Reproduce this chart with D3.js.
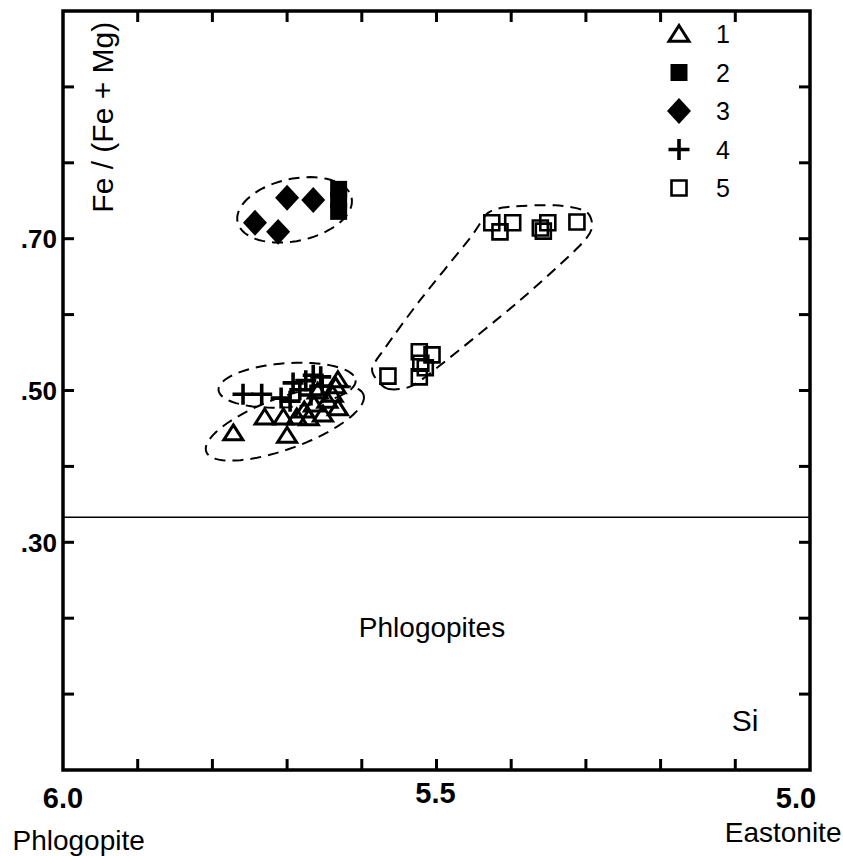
<!DOCTYPE html>
<html>
<head>
<meta charset="utf-8">
<script src="https://cdn.jsdelivr.net/npm/d3@7"></script>
<style>
  body { margin: 0; background: #fff; }
  svg { display: block; }
  text { font-family: "Liberation Sans", Arial, Helvetica, sans-serif; fill: #000; }
</style>
</head>
<body>
<div id="chart"></div>
<script>
// Si (x, reversed) vs Fe/(Fe+Mg) (y) for micas

// axis ticks
const siTicks = [6.0, 5.95, 5.9, 5.85, 5.8, 5.75, 5.7, 5.65, 5.6, 5.55, 5.5,
                 5.45, 5.4, 5.35, 5.3, 5.25, 5.2, 5.15, 5.1, 5.05, 5.0];
const siLabels = [[6.0, "6.0"], [5.5, "5.5"], [5.0, "5.0"]];
const feTicks = [0.1, 0.2, 0.3, 0.4, 0.5, 0.6, 0.7, 0.8, 0.9];
const feLabels = [[0.30, ".30"], [0.50, ".50"], [0.70, ".70"]];

// phlogopite / biotite boundary
const boundary = 0.333;

// series: [Si, Fe/(Fe+Mg)]
const series1 = [
  [5.772, 0.444], [5.730, 0.465], [5.700, 0.441], [5.705, 0.465],
  [5.687, 0.465], [5.671, 0.464], [5.652, 0.469], [5.632, 0.477],
  [5.664, 0.482], [5.639, 0.495], [5.659, 0.499], [5.635, 0.506],
  [5.632, 0.514], [5.677, 0.474], [5.646, 0.487]
];
const series2 = [[5.631, 0.765], [5.631, 0.751], [5.631, 0.736]];
const series3 = [[5.743, 0.721], [5.712, 0.709], [5.700, 0.754], [5.665, 0.751]];
const series4 = [
  [5.759, 0.495], [5.734, 0.495], [5.708, 0.490], [5.696, 0.486],
  [5.692, 0.510], [5.675, 0.513], [5.665, 0.520], [5.655, 0.518],
  [5.683, 0.501], [5.668, 0.494], [5.653, 0.506]
];
const series5 = [
  [5.426, 0.721], [5.415, 0.709], [5.398, 0.721], [5.361, 0.714],
  [5.357, 0.710], [5.351, 0.721], [5.312, 0.722],
  [5.565, 0.519], [5.523, 0.551], [5.506, 0.547], [5.521, 0.536],
  [5.515, 0.530], [5.523, 0.518]
];

// dashed envelopes: ellipses [cx, cy, half-width (Si), half-height (ratio), tilt deg]
const ellipses = [
  [5.690, 0.738, 0.078, 0.041, -12],
  [5.700, 0.507, 0.092, 0.029, -4],
  [5.703, 0.457, 0.112, 0.034, -20]
];
// outline round the series 5 field
const outline5 = [
  [5.580, 0.514], [5.564, 0.502], [5.533, 0.506], [5.489, 0.538],
  [5.388, 0.619], [5.311, 0.688], [5.292, 0.714], [5.300, 0.736],
  [5.341, 0.744], [5.402, 0.742], [5.431, 0.734], [5.455, 0.701],
  [5.522, 0.619], [5.569, 0.556], [5.586, 0.530]
];

const legendItems = ["1", "2", "3", "4", "5"];

////////////////////////////////////////////////////////////////////////
const width = 843, height = 856;
const plotL = 63, plotR = 810, plotT = 11, plotB = 770;

const svg = d3.select("#chart").append("svg")
  .attr("width", width)
  .attr("height", height);

const x = d3.scaleLinear().domain([6.0, 5.0]).range([plotL, plotR]);
const y = d3.scaleLinear().domain([0, 1]).range([plotB, plotT]);

// custom symbols, size = width^2
const tri = { draw(ctx, size) {
  const w = Math.sqrt(size) / 2, h = w * 0.85;
  ctx.moveTo(0, -h); ctx.lineTo(w, h * 0.85); ctx.lineTo(-w, h * 0.85); ctx.closePath();
}};
const sq = { draw(ctx, size) {
  const r = Math.sqrt(size) / 2;
  ctx.rect(-r, -r, 2 * r, 2 * r);
}};
const dia = { draw(ctx, size) {
  const r = Math.sqrt(size) / 2;
  ctx.moveTo(0, -r * 1.08); ctx.lineTo(r, 0); ctx.lineTo(0, r * 1.08); ctx.lineTo(-r, 0); ctx.closePath();
}};
const plus = { draw(ctx, size) {
  const r = Math.sqrt(size) / 2;
  ctx.moveTo(-r, 0); ctx.lineTo(r, 0); ctx.moveTo(0, -r); ctx.lineTo(0, r);
}};

const styles = [
  { type: tri,  size: 19 * 19, fill: "none", stroke: "#000", sw: 3 },
  { type: sq,   size: 17 * 17, fill: "#000", stroke: "none", sw: 0 },
  { type: dia,  size: 24 * 24, fill: "#000", stroke: "none", sw: 0 },
  { type: plus, size: 21 * 21, fill: "none", stroke: "#000", sw: 3.6 },
  { type: sq,   size: 15 * 15, fill: "none", stroke: "#000", sw: 2.6 }
];
const allSeries = [series1, series2, series3, series4, series5];

// boundary line
svg.append("line")
  .attr("x1", plotL).attr("x2", plotR)
  .attr("y1", y(boundary)).attr("y2", y(boundary))
  .attr("stroke", "#000").attr("stroke-width", 1.6);

// envelopes
const dashed = g => g.attr("fill", "none").attr("stroke", "#000")
  .attr("stroke-width", 2).attr("stroke-dasharray", "11,7");

const ellipsePts = e => {
  const cx = x(e[0]), cy = y(e[1]);
  const rx = Math.abs(x(e[0] + e[2]) - cx), ry = Math.abs(y(e[1] + e[3]) - cy);
  const a = e[4] * Math.PI / 180;
  return d3.range(0, 2 * Math.PI, Math.PI / 40).map(t => [
    cx + rx * Math.cos(t) * Math.cos(a) - ry * Math.sin(t) * Math.sin(a),
    cy + rx * Math.cos(t) * Math.sin(a) + ry * Math.sin(t) * Math.cos(a)
  ]);
};
svg.append("g").selectAll("path")
  .data(ellipses)
  .join("path")
  .attr("d", e => d3.line().curve(d3.curveLinearClosed)(ellipsePts(e)))
  .call(dashed);

svg.append("path")
  .datum(outline5)
  .attr("d", d3.line().x(d => x(d[0])).y(d => y(d[1])).curve(d3.curveCardinalClosed.tension(0.2)))
  .call(dashed);

// points
allSeries.forEach((s, i) => {
  const st = styles[i];
  svg.append("g").selectAll("path")
    .data(s)
    .join("path")
    .attr("transform", d => `translate(${x(d[0])},${y(d[1])})`)
    .attr("d", d3.symbol().type(st.type).size(st.size))
    .attr("fill", st.fill)
    .attr("stroke", st.stroke)
    .attr("stroke-width", st.sw);
});

// frame
svg.append("rect")
  .attr("x", plotL).attr("y", plotT)
  .attr("width", plotR - plotL).attr("height", plotB - plotT)
  .attr("fill", "none").attr("stroke", "#000").attr("stroke-width", 3.5);

// inward ticks
const tk = 11;
const innerSi = siTicks.filter((d, i) => i % 2 === 0 && d < 6.0 && d > 5.0);
const tickG = svg.append("g").attr("stroke", "#000").attr("stroke-width", 3);
tickG.selectAll(".xb").data(innerSi)
  .join("line").attr("class", "xb").attr("x1", d => x(d)).attr("x2", d => x(d))
  .attr("y1", plotB).attr("y2", plotB - tk);
tickG.selectAll(".xt").data(innerSi)
  .join("line").attr("class", "xt").attr("x1", d => x(d)).attr("x2", d => x(d))
  .attr("y1", plotT).attr("y2", plotT + tk);
tickG.selectAll(".yl").data(feTicks)
  .join("line").attr("class", "yl").attr("x1", plotL).attr("x2", plotL + tk)
  .attr("y1", d => y(d)).attr("y2", d => y(d));
tickG.selectAll(".yr").data(feTicks)
  .join("line").attr("class", "yr").attr("x1", plotR).attr("x2", plotR - tk)
  .attr("y1", d => y(d)).attr("y2", d => y(d));

// tick labels
svg.selectAll(".ylab").data(feLabels)
  .join("text").attr("class", "ylab")
  .attr("x", plotL - 6).attr("y", d => y(d[0]))
  .attr("dy", "0.36em")
  .attr("text-anchor", "end")
  .attr("font-size", 26).attr("font-weight", "bold")
  .text(d => d[1]);

svg.selectAll(".xlab").data(siLabels)
  .join("text").attr("class", "xlab")
  .attr("x", d => d[0] === 5.0 ? x(d[0]) - 14 : (d[0] === 5.5 ? x(d[0]) - 1 : x(d[0])))
  .attr("y", d => d[0] === 5.5 ? plotB + 23 : plotB + 28)
  .attr("dy", "0.36em")
  .attr("text-anchor", "middle")
  .attr("font-size", 29).attr("font-weight", "bold")
  .text(d => d[1]);

// axis titles and field names
svg.append("text")
  .attr("transform", `translate(${plotL + 50},${y(0.86)}) rotate(-90)`)
  .attr("text-anchor", "middle")
  .attr("font-size", 30)
  .text("Fe / (Fe + Mg)");

svg.append("text").attr("x", x(5.979)).attr("y", plotB + 80)
  .attr("text-anchor", "middle").attr("font-size", 28).text("Phlogopite");
svg.append("text").attr("x", x(5.036)).attr("y", plotB + 72)
  .attr("text-anchor", "middle").attr("font-size", 28).text("Eastonite");
svg.append("text").attr("x", x(5.506)).attr("y", y(0.175))
  .attr("text-anchor", "middle").attr("font-size", 28).text("Phlogopites");
svg.append("text").attr("x", x(5.087)).attr("y", y(0.052))
  .attr("text-anchor", "middle").attr("font-size", 30).text("Si");

// legend
const lg = svg.append("g").attr("transform", "translate(679,34)");
legendItems.forEach((lab, i) => {
  const st = styles[i];
  const row = lg.append("g").attr("transform", `translate(0,${i * 38.5})`);
  row.append("path")
    .attr("d", d3.symbol().type(st.type).size(i === 0 ? 20 * 20 : st.size))
    .attr("fill", st.fill).attr("stroke", st.stroke).attr("stroke-width", st.sw);
  row.append("text").attr("x", 44).attr("dy", "0.36em")
    .attr("text-anchor", "middle").attr("font-size", 25).text(lab);
});
</script>
</body>
</html>
